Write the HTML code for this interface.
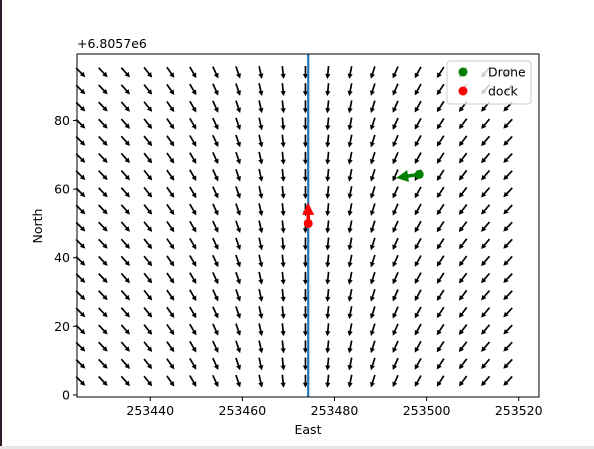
<!DOCTYPE html>
<html><head><meta charset="utf-8"><style>
body{margin:0;background:#fff;}
svg{display:block;font-family:"DejaVu Sans","Liberation Sans",sans-serif;}
</style></head><body>
<svg id="chart" width="594" height="449" viewBox="0 0 594 449">
<rect x="0" y="0" width="594" height="449" fill="#fff"/>
<rect x="0" y="0" width="2" height="449" fill="#2b1b2b"/>
<rect x="0" y="446" width="594" height="3" fill="#e6e6e6"/>
<g id="plot"></g>
</svg>
<script>
const xTicks = [253440, 253460, 253480, 253500, 253520];
const yTicks = [0, 20, 40, 60, 80];
const gridStartX = 253424.9, gridStepX = 4.88, gridCols = 20;
const gridStartY = 4, gridStepY = 5, gridRows = 19;
const colU = [1.0, 0.95, 0.88, 0.8, 0.7, 0.58, 0.46, 0.34, 0.22, 0.1, 0, -0.1, -0.2, -0.32, -0.44, -0.55, -0.65, -0.75, -0.85, -0.95];
const colV = -1;
const lineX = [253474.3];
const drone = [253498.4, 64.3];
const droneVec = [-5, -1];
const dock = [253474.3, 50];
const dockVec = [0, 6];

const L = 77, R = 539, T = 54, B = 397;
const xMin = 253424.1, xMax = 253524.4, yMin = -0.6, yMax = 99.4;
const sx = v => L + (v - xMin) / (xMax - xMin) * (R - L);
const sy = v => B - (v - yMin) / (yMax - yMin) * (B - T);
const NS = "http://www.w3.org/2000/svg";
const g = document.getElementById('plot');
function mk(tag, attrs, parent) {
  const e = document.createElementNS(NS, tag);
  for (const k in attrs) e.setAttribute(k, attrs[k]);
  (parent || g).appendChild(e);
  return e;
}
function arrow(x, y, dx, dy, color, w, headL, headW, parent) {
  const len = Math.hypot(dx, dy), ux = dx / len, uy = dy / len;
  const x0 = x, y0 = y, x1 = x + dx, y1 = y + dy;
  const bx = x1 - ux * headL, by = y1 - uy * headL;
  const px = -uy, py = ux;
  const grp = mk('g', {}, parent);
  mk('line', {x1: x0, y1: y0, x2: bx + ux, y2: by + uy, stroke: color, 'stroke-width': w}, grp);
  mk('polygon', {points: `${x1},${y1} ${bx + px * headW},${by + py * headW} ${bx - px * headW},${by - py * headW}`, fill: color}, grp);
  return grp;
}
const field = mk('g', {});


for (let c = 0; c < gridCols; c++) {
  for (let r = 0; r < gridRows; r++) {
    const cx = sx(gridStartX + c * gridStepX), cy = sy(gridStartY + r * gridStepY);
    const u = colU[c], v = colV, n = Math.hypot(u, v);
    const Lp = 13;
    const dx = u / n * Lp, dy = -v / n * Lp;
    const a = arrow(cx - dx / 2, cy - dy / 2, dx, dy, '#000', 1.7, 5, 2.6, field);
    
    
  }
}
const bl = mk('line', {x1: sx(lineX[0]), y1: T, x2: sx(lineX[0]), y2: B, stroke: '#1f77b4', 'stroke-width': 2.2});


const dockDot = mk('circle', {cx: sx(dock[0]), cy: sy(dock[1]), r: 4.5, fill: '#ff0000'});


const da = arrow(sx(dock[0]), sy(dock[1]), (sx(dock[0] + dockVec[0]) - sx(dock[0])), (sy(dock[1] + dockVec[1]) - sy(dock[1])), '#ff0000', 3.5, 12, 6);


const dd = mk('circle', {cx: sx(drone[0]), cy: sy(drone[1]), r: 4.5, fill: '#008000'});


const dra = arrow(sx(drone[0]), sy(drone[1]), (sx(drone[0] + droneVec[0]) - sx(drone[0])), (sy(drone[1] + droneVec[1]) - sy(drone[1])), '#008000', 3.5, 12, 6);


const fr = mk('rect', {x: L, y: T, width: R - L, height: B - T, fill: 'none', stroke: '#000', 'stroke-width': 1});


xTicks.forEach(t => {
  const x = sx(t);
  const tl = mk('line', {x1: x, y1: B, x2: x, y2: B + 4, stroke: '#000'});
  
  
  const tx = mk('text', {x: x, y: B + 18, 'text-anchor': 'middle', 'font-size': 12.5, fill: '#000'});
  tx.textContent = t;
  
  
});
yTicks.forEach(t => {
  const y = sy(t);
  const tl = mk('line', {x1: L - 4, y1: y, x2: L, y2: y, stroke: '#000'});
  
  
  const tx = mk('text', {x: L - 7, y: y + 4.5, 'text-anchor': 'end', 'font-size': 12.5, fill: '#000'});
  tx.textContent = t;
  
  
});
</script>
<svg width="594" height="449" style="position:absolute;left:0;top:0">
<text x="77" y="48" font-size="12.5" font-family="DejaVu Sans, Liberation Sans, sans-serif">+6.8057e6</text>
<text x="308" y="434" text-anchor="middle" font-size="12.5" font-family="DejaVu Sans, Liberation Sans, sans-serif">East</text>
<text x="42" y="226" text-anchor="middle" font-size="12.5" transform="rotate(-90 42 226)" font-family="DejaVu Sans, Liberation Sans, sans-serif">North</text>
<g>
<rect x="447" y="61" width="84" height="43" rx="3" fill="#fff" fill-opacity="0.8" stroke="#ccc"/>
<circle cx="463" cy="72" r="4.5" fill="#008000"/>
<text x="488" y="76.5" font-size="12.5" font-family="DejaVu Sans, Liberation Sans, sans-serif">Drone</text>
<circle cx="463" cy="91" r="4.5" fill="#ff0000"/>
<text x="488" y="95.5" font-size="12.5" font-family="DejaVu Sans, Liberation Sans, sans-serif">dock</text>
</g>
</svg>
</body></html>
